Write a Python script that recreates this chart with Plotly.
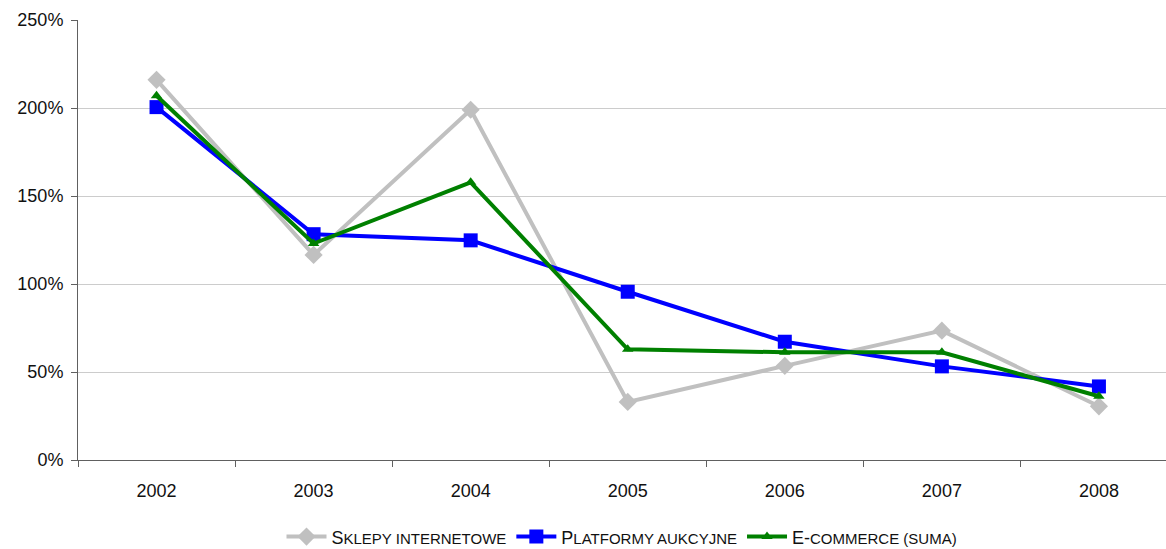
import plotly.graph_objects as go

years = ["2002", "2003", "2004", "2005", "2006", "2007", "2008"]
sklepy = [216, 116.5, 199, 33, 53.5, 73.5, 30.5]
platformy = [200.5, 128.3, 124.8, 95.6, 67.2, 53.2, 41.8]
ecommerce = [207, 123, 157.8, 62.9, 61.2, 61.2, 36.2]

names = [
    "S<span style='font-size:15px'>KLEPY INTERNETOWE</span>",
    "P<span style='font-size:15px'>LATFORMY AUKCYJNE</span>",
    "E-<span style='font-size:15px'>COMMERCE (SUMA)</span>",
]

fig = go.Figure()
fig.add_trace(go.Scatter(
    x=years, y=sklepy, name=names[0], mode="lines+markers",
    line=dict(color="#c0c0c0", width=4),
    marker=dict(symbol="diamond", size=14, color="#c0c0c0"),
))
fig.add_trace(go.Scatter(
    x=years, y=platformy, name=names[1], mode="lines+markers",
    line=dict(color="#0000ff", width=4),
    marker=dict(symbol="square", size=14, color="#0000ff"),
))
fig.add_trace(go.Scatter(
    x=years, y=ecommerce, name=names[2], mode="lines+markers",
    line=dict(color="#008000", width=4),
    marker=dict(symbol="triangle-up", size=10, color="#008000"),
))

fig.update_layout(
    width=1166, height=549,
    margin=dict(l=78, r=0, t=20, b=89, autoexpand=False),
    paper_bgcolor="white", plot_bgcolor="white",
    font=dict(family="Liberation Sans", size=18, color="#111111"),
    showlegend=True,
    legend=dict(
        orientation="h", x=0.5, xanchor="center",
        yref="container", y=0.022, yanchor="middle",
        font=dict(size=18), itemwidth=40, tracegroupgap=0,
    ),
)
fig.update_xaxes(
    type="category", range=[-0.5, 6.427],
    showline=True, linecolor="#606060", linewidth=1,
    ticks="outside", tickson="boundaries", ticklen=6, tickcolor="#606060",
    ticklabelstandoff=14,
    showgrid=False, zeroline=False,
)
fig.update_yaxes(
    range=[0, 250], tickvals=[0, 50, 100, 150, 200, 250],
    ticktext=["0%", "50%", "100%", "150%", "200%", "250%"],
    showline=True, linecolor="#606060", linewidth=1,
    ticks="outside", ticklen=6, tickcolor="#606060",
    ticklabelstandoff=4,
    showgrid=True, gridcolor="#cccccc", gridwidth=1, zeroline=False,
)

fig.write_html("out.html")
